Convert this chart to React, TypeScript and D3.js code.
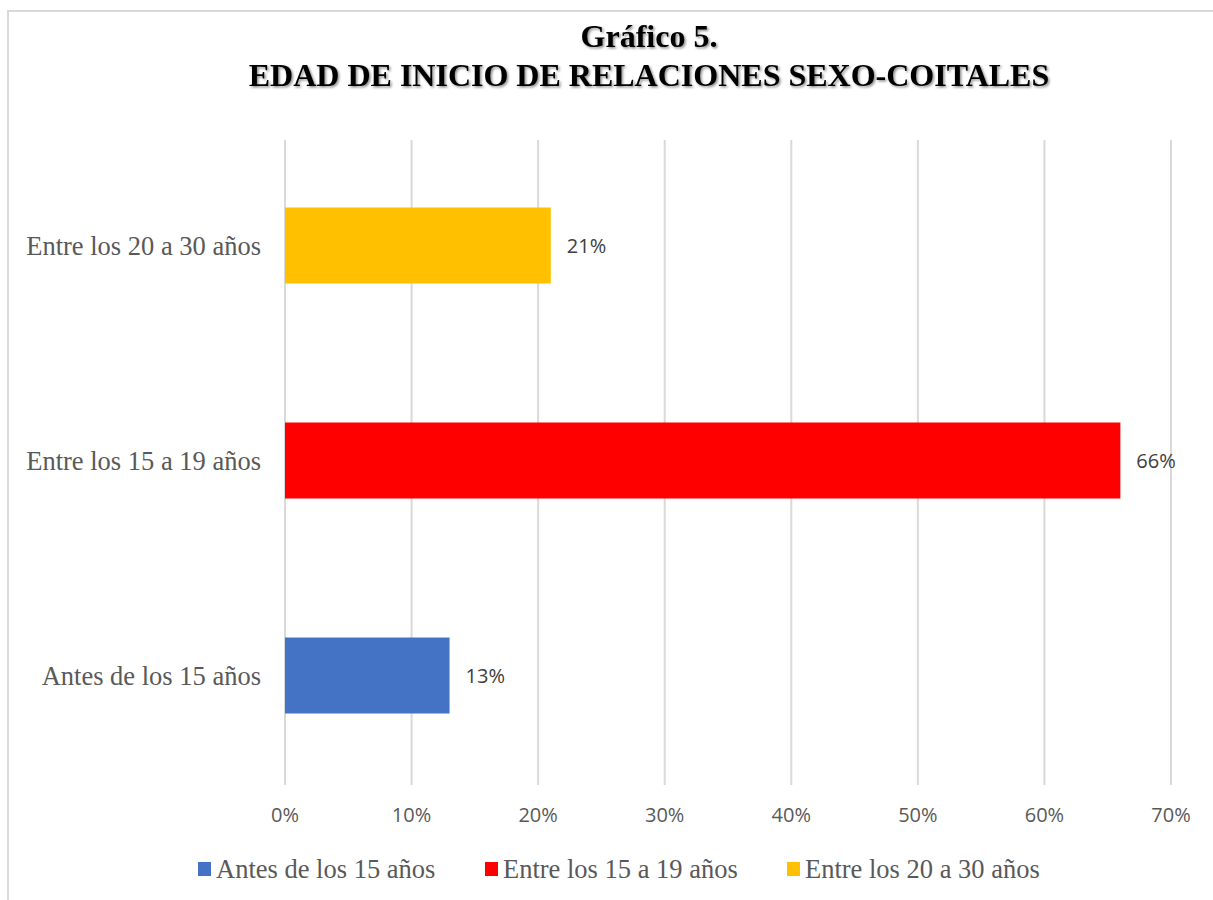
import React from "react";
import * as d3 from "d3";

const categories = ["Antes de los 15 años", "Entre los 15 a 19 años", "Entre los 20 a 30 años"];
const values = [0.13, 0.66, 0.21];
const colors = ["#4472C4", "#FF0000", "#FFC000"];
const ticks = [0, 0.1, 0.2, 0.3, 0.4, 0.5, 0.6, 0.7];
const titleLines = ["Gráfico 5.", "EDAD DE INICIO DE RELACIONES SEXO-COITALES"];

export default function App() {
  const W = 1213, H = 900;
  const x = d3.scaleLinear().domain([0, 0.7]).range([285, 1171]);
  const p = 1 - 76 / 215;
  const y = d3.scaleBand<string>().domain([...categories].reverse()).range([138, 783]).paddingInner(p).paddingOuter(p / 2);
  const fmt = d3.format(".0%");
  const serif = "'Liberation Serif', 'Times New Roman', serif";
  const sans = "'Open Sans', 'Segoe UI', sans-serif";
  const legendX = [198, 485, 787];
  return (
    <div style={{ position: "absolute", left: 0, top: 0 }}>
      <svg width={W} height={H} style={{ display: "block" }}>
        <defs>
          <filter id="sh" x="-5%" y="-20%" width="110%" height="150%">
            <feDropShadow dx="1.5" dy="1.5" stdDeviation="1" floodColor="#000" floodOpacity="0.45" />
          </filter>
        </defs>
        <rect x={0} y={0} width={W} height={H} fill="#fff" />
        <line x1={8} x2={W} y1={11} y2={11} stroke="#d9d9d9" strokeWidth={2} />
        <line x1={8} x2={8} y1={10} y2={H} stroke="#d9d9d9" strokeWidth={2} />
        <g filter="url(#sh)">
          {titleLines.map((t, i) => (
            <text key={i} x={649} y={47 + i * 39} textAnchor="middle" fontFamily={serif} fontWeight="bold" fontSize={32} fill="#000">{t}</text>
          ))}
        </g>
        {ticks.map((t) => (
          <g key={t}>
            <line x1={x(t)} x2={x(t)} y1={140} y2={785} stroke="#d9d9d9" strokeWidth={2} />
            <text x={x(t)} y={822} textAnchor="middle" fontFamily={sans} fontSize={20} fill="#595959">{fmt(t)}</text>
          </g>
        ))}
        {categories.map((c, i) => (
          <g key={c}>
            <rect x={x(0)} y={y(c)!} width={x(values[i]) - x(0)} height={y.bandwidth()} fill={colors[i]} />
            <text x={x(values[i]) + 16} y={y(c)! + y.bandwidth() / 2 + 7} fontFamily={sans} fontSize={20} fill="#404040">{fmt(values[i])}</text>
            <text x={261} y={y(c)! + y.bandwidth() / 2 + 9} textAnchor="end" fontFamily={serif} fontSize={26.5} fill="#595959">{c}</text>
          </g>
        ))}
        {categories.map((c, i) => (
          <g key={"l" + c}>
            <rect x={legendX[i]} y={862} width={13} height={14} fill={colors[i]} />
            <text x={legendX[i] + 18} y={878} fontFamily={serif} fontSize={26.5} fill="#595959">{c}</text>
          </g>
        ))}
      </svg>
    </div>
  );
}
